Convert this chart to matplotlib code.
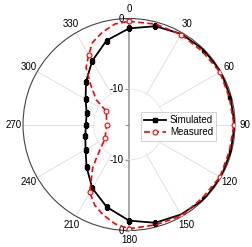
import numpy as np
import matplotlib
matplotlib.use("Agg")
import matplotlib.pyplot as plt
from matplotlib import markers, transforms

plt.rcParams["font.family"] = ["Liberation Sans", "DejaVu Sans"]
plt.rcParams["font.size"] = 7

# Simulated pattern (dB), every 15 degrees
sim_deg = [0, 15, 30, 45, 60, 75, 90, 105, 120, 135, 150, 165,
           180, 195, 210, 225, 240, 255, 270, 285, 300, 315, 330, 345, 360]
sim_db = [-1.4, -0.6, -0.2, -0.05, 0.0, -0.15, -0.05, -0.1, 0.0, 0.0, -0.3, -0.6,
          -1.4, -2.9, -4.6, -6.5, -7.9, -8.6, -8.9, -8.8, -7.9, -6.4, -4.6, -2.7, -1.4]
sim_marks = [0, 1, 3, 5, 7, 9, 11, 12, 13, 14, 15, 16, 17, 18, 19, 20, 21, 22, 23]

# Measured pattern (dB)
meas_deg = [0, 15, 30, 45, 60, 75, 90, 105, 120, 135, 150, 165, 180,
            188, 196, 203, 210, 220, 225, 240, 255, 270, 285, 300,
            307, 317, 323, 330, 336, 344, 352, 360]
meas_db = [-0.4, -0.3, -0.3, -0.35, -0.15, -0.3, -0.15, -0.3, -0.15, -0.3, -0.1, -0.3, -0.25,
           -0.8, -1.7, -2.6, -3.9, -7.0, -8.6, -11.1, -11.6, -11.9, -11.7, -11.3,
           -9.2, -6.9, -4.9, -3.6, -2.3, -1.4, -0.64, -0.4]
meas_marks = [i for i, d in enumerate(meas_deg) if d % 30 == 0 and d < 360]

theta_ticks = list(range(0, 360, 30))
r_ticks = [-10, 0]

fig = plt.figure(figsize=(2.52, 2.47), dpi=100)
ax = fig.add_axes([0.0913, 0.0668, 0.8413, 0.8583], projection="polar")
ax.set_theta_zero_location("N")
ax.set_theta_direction(-1)
ax.set_ylim(-15, 0)

# grid
ax.set_thetagrids(theta_ticks, [str(t) for t in theta_ticks])
ax.set_rgrids([-10], labels=[""])
ax.xaxis.grid(False)
ax.yaxis.grid(True, color="#e4e4e4", lw=0.6)
for t in theta_ticks:
    if t in (0, 180):
        continue
    ax.plot([np.radians(t)] * 2, [-10, 0], color="#dcdcdc", lw=0.6, zorder=0)

ax.spines["polar"].set_color("#444444")
ax.spines["polar"].set_linewidth(0.8)
ax.tick_params(axis="x", direction="out", length=2.5, width=0.6, color="#444444", pad=-2.5)

# vertical radial axis
gray = "#9a9a9a"
ax.plot([0, 0], [-15, 0], color=gray, lw=1.2, zorder=1)
ax.plot([np.pi, np.pi], [-15, 0], color=gray, lw=1.2, zorder=1)
ax.plot([0, 0, np.pi, np.pi, 0], [-10, 0, -10, 0, -15], ls="none",
        marker=markers.TICKLEFT, ms=3, mew=0.8, color=gray, clip_on=False)
off = transforms.offset_copy(ax.transData, fig=fig, x=-5, y=0, units="dots")
for r in r_ticks:
    for th in (0, np.pi):
        ax.text(th, r, str(r), transform=off, ha="right", va="center")

ax.plot(np.radians(sim_deg), sim_db, color="black", lw=1.3,
        marker="s", ms=3, markevery=sim_marks, label="Simulated", zorder=3)
ax.plot(np.radians(meas_deg), meas_db, color="red", lw=1.2, ls=(0, (3.5, 2)),
        marker="o", ms=3.5, mfc="white", mec="red", mew=0.8,
        markevery=meas_marks, label="Measured", zorder=4)

leg = ax.legend(loc="upper left", bbox_to_anchor=(0.557, 0.559), borderaxespad=0,
                fancybox=False, framealpha=1, edgecolor="#cccccc",
                handlelength=2.2, handletextpad=0.4, labelspacing=0.2, borderpad=0.35)
leg.get_frame().set_linewidth(0.6)

fig.savefig("out.png", dpi=100)
